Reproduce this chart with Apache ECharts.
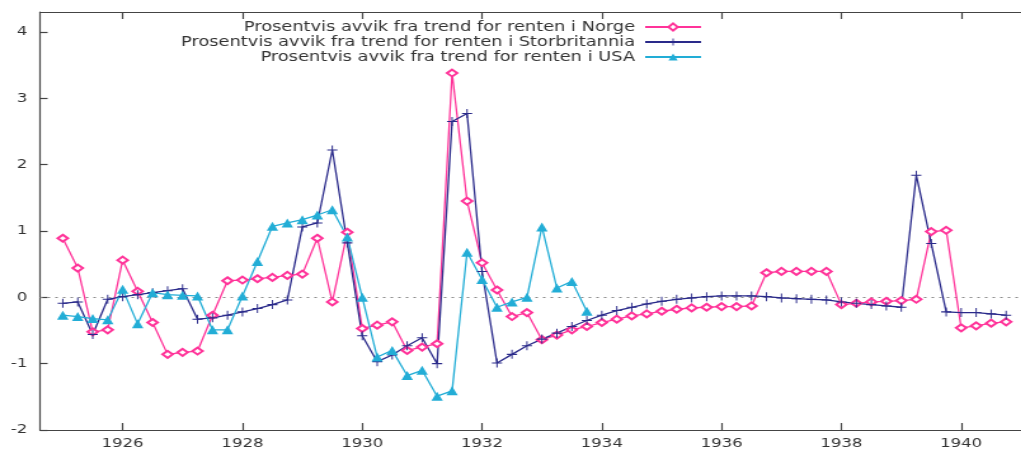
<!DOCTYPE html>
<html lang="no">
<head>
<meta charset="UTF-8">
<title>Prosentvis avvik fra trend for renten</title>
<script src="https://cdn.jsdelivr.net/npm/echarts@6/dist/echarts.min.js"></script>
<style>
    html, body { margin: 0; padding: 0; background: #fff; overflow: hidden; }
    /* originalen er et bredstrukket skjermbilde, saa vi strekker tegneflaten likt */
    #main { width: 804px; height: 453px; transform: scaleX(1.27); transform-origin: 0 0; }
</style>
</head>
<body>

<div id="main"></div>

<script type="text/javascript">
    // serienavn
    var navn = [
        'Prosentvis avvik fra trend for renten i Norge',
        'Prosentvis avvik fra trend for renten i Storbritannia',
        'Prosentvis avvik fra trend for renten i USA'
    ];

    // kvartalsvise avvik, 1925 K1 -> 1940 K4
    var norge = [
        0.89, 0.44, -0.52, -0.49, 0.56, 0.09, -0.38, -0.86,
        -0.83, -0.81, -0.27, 0.25, 0.26, 0.28, 0.30, 0.33,
        0.35, 0.89, -0.07, 0.98, -0.47, -0.42, -0.37, -0.80,
        -0.75, -0.70, 3.38, 1.45, 0.52, 0.11, -0.29, -0.23,
        -0.64, -0.57, -0.49, -0.44, -0.38, -0.33, -0.28, -0.25,
        -0.21, -0.18, -0.16, -0.15, -0.14, -0.14, -0.13, 0.37,
        0.39, 0.39, 0.39, 0.39, -0.11, -0.09, -0.07, -0.06,
        -0.05, -0.03, 0.99, 1.01, -0.46, -0.43, -0.39, -0.37
    ];
    var storbritannia = [
        -0.09, -0.07, -0.56, -0.03, 0.01, 0.04, 0.07, 0.10,
        0.13, -0.33, -0.31, -0.27, -0.22, -0.17, -0.11, -0.04,
        1.06, 1.12, 2.22, 0.82, -0.58, -0.97, -0.87, -0.73,
        -0.61, -1.00, 2.65, 2.77, 0.39, -0.99, -0.86, -0.73,
        -0.63, -0.54, -0.44, -0.35, -0.27, -0.20, -0.15, -0.10,
        -0.06, -0.03, -0.01, 0.01, 0.02, 0.02, 0.02, 0.01,
        -0.01, -0.02, -0.03, -0.04, -0.07, -0.09, -0.11, -0.13,
        -0.15, 1.84, 0.81, -0.22, -0.23, -0.23, -0.25, -0.27
    ];
    // USA: 1925 K1 -> 1933 K4
    var usa = [
        -0.27, -0.29, -0.32, -0.34, 0.12, -0.40, 0.07, 0.04,
        0.03, 0.02, -0.49, -0.49, 0.02, 0.54, 1.07, 1.12,
        1.17, 1.24, 1.32, 0.91, 0.00, -0.90, -0.80, -1.18,
        -1.10, -1.49, -1.41, 0.68, 0.27, -0.15, -0.07, 0.00,
        1.06, 0.14, 0.24, -0.21
    ];

    // tidspunkt for hvert kvartal
    var kvartal = [];
    for (var aar = 1925; aar <= 1940; aar++) {
        kvartal.push(aar, aar + 0.25, aar + 0.5, aar + 0.75);
    }

    var aarTikk = [1926, 1928, 1930, 1932, 1934, 1936, 1938, 1940];
    var yTikk = [-2, -1, 0, 1, 2, 3, 4];

    var farger = ['#ff3399', '#2a2a8a', '#22add6'];

    function par(verdier) {
        return verdier.map(function (v, i) { return [kvartal[i], v]; });
    }

    var font = 'DejaVu Sans';
    var tekst = '#333';
    var strek = '#444';

    var myChart = echarts.init(document.getElementById('main'));

    var xAkse = function (pos, visTekst) {
        return {
            type: 'value',
            position: pos,
            min: 1924.62,
            max: 1941,
            axisLine: { show: true, onZero: false, lineStyle: { color: strek, width: 1.2 } },
            axisTick: { show: true, inside: true, length: 7, customValues: aarTikk,
                        lineStyle: { color: strek, width: 1.2 } },
            axisLabel: { show: visTekst, customValues: aarTikk, margin: 7,
                         fontFamily: font, fontSize: 13, color: tekst,
                         formatter: function (v) { return String(v); } },
            splitLine: { show: false }
        };
    };

    var option = {
        animation: false,
        grid: { left: 31.5, top: 12, width: 774, height: 418 },
        legend: navn.map(function (n, k) {
            return {
                data: [n],
                right: 251,
                top: 20 + k * 15,
                align: 'right',
                padding: 0,
                itemWidth: 44,
                itemHeight: 9,
                selectedMode: false,
                textStyle: { fontFamily: font, fontSize: 14, color: tekst, padding: [0, 3, 0, 0] }
            };
        }),
        xAxis: [xAkse('bottom', true), xAkse('top', false)],
        yAxis: {
            type: 'value',
            min: -2,
            max: 4.3,
            axisLine: { show: true, lineStyle: { color: strek, width: 1.2 } },
            axisTick: { show: true, inside: true, length: 6, customValues: yTikk,
                        lineStyle: { color: strek, width: 1.2 } },
            axisLabel: { customValues: yTikk, margin: 10, fontFamily: font, fontSize: 13, color: tekst,
                         formatter: function (v) { return String(v); } },
            splitLine: { show: false }
        },
        series: [{
            name: navn[0],
            type: 'line',
            data: par(norge),
            symbol: 'emptyDiamond',
            symbolSize: [8, 7],
            lineStyle: { color: farger[0], width: 1.3 },
            itemStyle: { color: farger[0], borderWidth: 1 },
            emphasis: { disabled: true },
            markLine: {
                silent: true,
                z: 1,
                symbol: ['none', 'none'],
                label: { show: false },
                lineStyle: { color: '#8a8a8a', type: [2, 4], width: 1 },
                data: [{ yAxis: 0 }]
            }
        }, {
            name: navn[1],
            type: 'line',
            data: par(storbritannia),
            symbol: 'path://M0,4.4H10V5.6H0Z M4.4,0H5.6V10H4.4Z',
            symbolSize: [8, 9],
            lineStyle: { color: farger[1], width: 1.3 },
            itemStyle: { color: farger[1] },
            emphasis: { disabled: true }
        }, {
            name: navn[2],
            type: 'line',
            data: par(usa),
            symbol: 'triangle',
            symbolSize: [9, 9],
            lineStyle: { color: farger[2], width: 1.3 },
            itemStyle: { color: farger[2] },
            emphasis: { disabled: true }
        }]
    };

    myChart.setOption(option);
</script>
</body>
</html>
